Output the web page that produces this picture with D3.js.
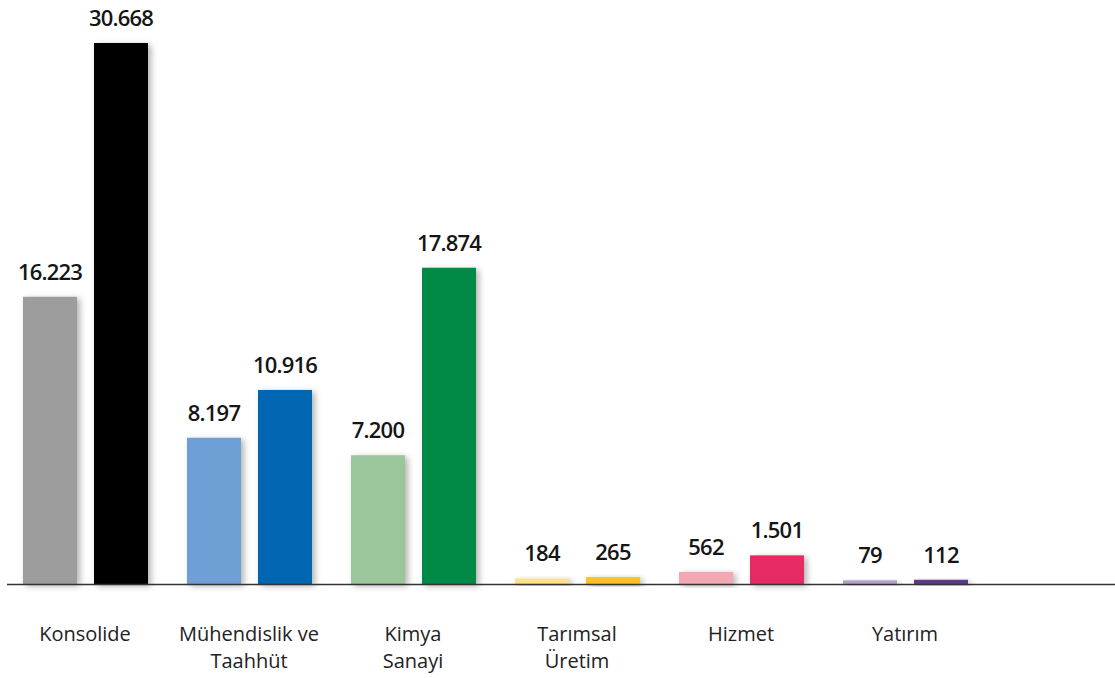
<!DOCTYPE html>
<html><head><meta charset="utf-8">
<script src="https://cdn.jsdelivr.net/npm/d3@7"></script>
<style>
html,body{margin:0;padding:0;background:#fff;}
svg{display:block;font-family:"Open Sans",sans-serif;}
</style></head>
<body>
<svg id="chart" width="1115" height="678"></svg>
<script>
const categories = ["Konsolide", "Mühendislik ve\nTaahhüt", "Kimya\nSanayi", "Tarımsal\nÜretim", "Hizmet", "Yatırım"];
const series = ["prev", "curr"];
const prevValues = [16223, 8197, 7200, 184, 562, 79];
const currValues = [30668, 10916, 17874, 265, 1501, 112];
const prevColors = ["#9d9d9d", "#6e9fd5", "#9bc59b", "#fde08c", "#f3a7b2", "#b3a1cc"];
const currColors = ["#000000", "#0566b2", "#018a44", "#fbc12b", "#e62c63", "#5c3b88"];
const fmt = v => d3.format(",")(v).replace(/,/g, ".");

const svg = d3.select("#chart");
const defs = svg.append("defs");
const f = defs.append("filter").attr("id","sh").attr("x","-30%").attr("y","-30%").attr("width","160%").attr("height","160%");
f.append("feDropShadow").attr("dx",3).attr("dy",2).attr("stdDeviation",3).attr("flood-color","#000").attr("flood-opacity",0.3);

const baseY = 584;
const x0 = d3.scaleBand().domain(categories).range([23, 23 + 6*164]).paddingInner(0).paddingOuter(0);
const x1 = d3.scaleBand().domain(series).range([0, 125]).paddingInner(17/71).paddingOuter(0);
const y = d3.scaleLinear().domain([-130, 30668]).range([baseY, 43]);

const data = categories.map((c,i)=>({c, vals:[
  {s:"prev", v:prevValues[i], col:prevColors[i]},
  {s:"curr", v:currValues[i], col:currColors[i]}]}));

const g = svg.selectAll("g.grp").data(data).enter().append("g")
  .attr("transform", d=>`translate(${x0(d.c)},0)`);

g.selectAll("rect").data(d=>d.vals).enter().append("rect")
  .attr("x", d=>x1(d.s)).attr("width", x1.bandwidth())
  .attr("y", d=>y(d.v)).attr("height", d=>baseY - y(d.v))
  .attr("fill", d=>d.col).attr("filter","url(#sh)");

g.selectAll("text.val").data(d=>d.vals).enter().append("text")
  .attr("class","val")
  .attr("x", d=>x1(d.s)+x1.bandwidth()/2)
  .attr("y", d=>y(d.v)-17)
  .attr("text-anchor","middle")
  .attr("font-size",22).attr("font-weight",600).attr("letter-spacing",-0.8)
  .attr("fill","#151515")
  .text(d=>fmt(d.v));

svg.append("line").attr("x1",7).attr("x2",1115).attr("y1",baseY+0.5).attr("y2",baseY+0.5)
  .attr("stroke","#333").attr("stroke-width",1.6);

g.each(function(d){
  const lines = d.c.split("\n");
  const t = d3.select(this).append("text")
    .attr("text-anchor","middle").attr("font-size",20).attr("fill","#222");
  lines.forEach((l,i)=>t.append("tspan").attr("x",62).attr("y",641+i*27).text(l));
});
</script>
</body></html>
